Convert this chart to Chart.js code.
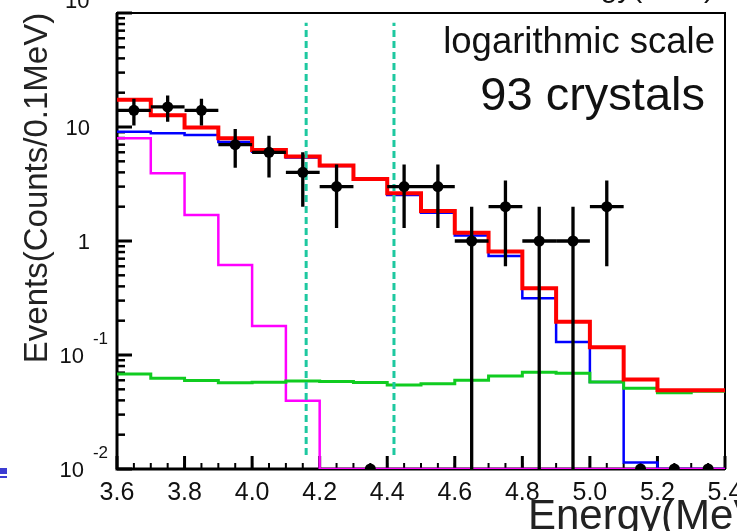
<!DOCTYPE html>
<html>
<head>
<meta charset="utf-8">
<script src="https://cdn.jsdelivr.net/npm/chart.js@4.4.0/dist/chart.umd.min.js"></script>
<style>
	html, body { margin: 0; padding: 0; background: #fff; }
	#wrap { position: relative; width: 737px; height: 531px; }
</style>
</head>
<body>
<div id="wrap"><canvas id="spectrum" width="737" height="531"></canvas></div>
<script>
// energy bins (MeV), 0.1 MeV wide
var binEdges = [3.6, 3.7, 3.8, 3.9, 4.0, 4.1, 4.2, 4.3, 4.4, 4.5, 4.6, 4.7, 4.8, 4.9, 5.0, 5.1, 5.2, 5.3, 5.4];
var binCenters = [3.65, 3.75, 3.85, 3.95, 4.05, 4.15, 4.25, 4.35, 4.45, 4.55, 4.65, 4.75, 4.85, 4.95, 5.05, 5.15, 5.25, 5.35];

// measured events and their error bars
var dataCounts = [14, 15, 14, 7, 6, 4, 3, 0, 3, 3, 1, 2, 1, 1, 2, 0, 0, 0];
var dataErr = [3.7, 3.9, 3.7, 2.6, 2.4, 2.0, 1.7, 0, 1.7, 1.7, 1.0, 1.4, 1.0, 1.0, 1.4, 0, 0, 0];

// fit components
var totalFit = [17.3, 12.7, 9.9, 7.95, 6.3, 5.5, 4.6, 3.5, 2.62, 1.83, 1.18, 0.81, 0.385, 0.196, 0.117, 0.061, 0.049, 0.049];
var mainFit = [9.1, 8.8, 8.5, 7.4, 6.06, 5.4, 4.54, 3.44, 2.53, 1.77, 1.12, 0.74, 0.314, 0.13, 0.058, 0.0114, 0, 0];
var fastFit = [7.95, 3.93, 1.69, 0.615, 0.18, 0.0397, 0, 0, 0, 0, 0, 0, 0, 0, 0, 0, 0, 0];
var bkgFit = [0.068, 0.0625, 0.0596, 0.0572, 0.0576, 0.059, 0.0585, 0.0575, 0.0546, 0.056, 0.060, 0.0655, 0.0705, 0.069, 0.058, 0.051, 0.0466, 0.048];

// energy window (dashed lines)
var windowLines = [4.16, 4.42];
var windowSpan = [0.0133, 82];

// axes
var X_MIN = 3.6, X_MAX = 5.4;
var Y_MIN = 0.01, Y_MAX = 100;
var xTickValues = [3.6, 3.8, 4.0, 4.2, 4.4, 4.6, 4.8, 5.0, 5.2, 5.4];
var xTickLabels = ["3.6", "3.8", "4.0", "4.2", "4.4", "4.6", "4.8", "5.0", "5.2", "5.4"];
var yTickValues = [0.01, 0.1, 1, 10, 100];
var yTickBase = ["10", "10", "1", "10", "10"];
var yTickExp = ["-2", "-1", "", "", "2"];

var FONT = '"Liberation Sans", Arial, Helvetica, sans-serif';

function HistPoints(vals) {
	var pts = [];
	for (var i = 0; i < vals.length; i++) {
		pts.push({ x: binEdges[i], y: vals[i] > 0 ? vals[i] : Y_MIN });
	}
	pts.push({ x: binEdges[vals.length], y: pts[pts.length - 1].y });
	return pts;
}

function HistSet(label, vals, color, width) {
	return {
		label: label,
		data: HistPoints(vals),
		borderColor: color,
		borderWidth: width,
		stepped: "before",
		pointRadius: 0,
		fill: false,
	};
}

function WindowSet(e) {
	return {
		label: "window " + e,
		data: [{ x: e, y: windowSpan[0] }, { x: e, y: windowSpan[1] }],
		borderColor: "#1ec8a0",
		borderWidth: 3,
		borderDash: [7, 4],
		pointRadius: 0,
		fill: false,
	};
}

var dataPoints = binCenters.map(function (c, i) {
	return { x: c, y: dataCounts[i] > 0 ? dataCounts[i] : Y_MIN };
});

// ROOT-like frame with inward ticks
var rootFrame = {
	id: "rootFrame",
	beforeDatasetsDraw: function (chart) {
		var ctx = chart.ctx, a = chart.chartArea, xs = chart.scales.x, ys = chart.scales.y;
		ctx.save();
		ctx.strokeStyle = "#000";
		ctx.lineCap = "butt";
		// x minor ticks
		ctx.lineWidth = 2;
		for (var k = 0; k <= 36; k++) {
			var px = xs.getPixelForValue(X_MIN + k * 0.05);
			ctx.beginPath();
			ctx.moveTo(px, a.bottom);
			ctx.lineTo(px, a.bottom - 6);
			ctx.stroke();
		}
		ctx.lineWidth = 3;
		xTickValues.forEach(function (v) {
			var px = xs.getPixelForValue(v);
			ctx.beginPath();
			ctx.moveTo(px, a.bottom);
			ctx.lineTo(px, a.bottom - 13);
			ctx.stroke();
		});
		// y ticks
		ctx.lineWidth = 2.5;
		for (var d = 0; d < yTickValues.length - 1; d++) {
			for (var m = 2; m <= 9; m++) {
				var py = ys.getPixelForValue(yTickValues[d] * m);
				ctx.beginPath();
				ctx.moveTo(a.left, py);
				ctx.lineTo(a.left + 8, py);
				ctx.stroke();
			}
		}
		ctx.lineWidth = 3;
		yTickValues.forEach(function (v) {
			var py = ys.getPixelForValue(v);
			ctx.beginPath();
			ctx.moveTo(a.left, py);
			ctx.lineTo(a.left + 15, py);
			ctx.stroke();
		});
		// frame
		ctx.lineWidth = 2;
		ctx.strokeRect(a.left, a.top, a.right - a.left, a.bottom - a.top);
		ctx.lineWidth = 3;
		ctx.beginPath();
		ctx.moveTo(a.left, a.top);
		ctx.lineTo(a.left, a.bottom);
		ctx.lineTo(a.right, a.bottom);
		ctx.stroke();

		// tick labels
		ctx.fillStyle = "#111";
		ctx.font = "25px " + FONT;
		ctx.textAlign = "center";
		ctx.textBaseline = "alphabetic";
		xTickValues.forEach(function (v, i) {
			ctx.fillText(xTickLabels[i], xs.getPixelForValue(v), a.bottom + 31);
		});
		yTickValues.forEach(function (v, i) {
			var py = ys.getPixelForValue(v);
			var base = py + 8;
			if (py <= a.top + 1) base = py - 5;
			ctx.textAlign = "right";
			if (yTickExp[i]) {
				ctx.font = "17px " + FONT;
				var ew = ctx.measureText(yTickExp[i]).width;
				ctx.fillText(yTickExp[i], 108, base - 19.5);
				ctx.font = "22px " + FONT;
				ctx.fillText(yTickBase[i], 108 - ew - 9, base);
			} else {
				ctx.font = "22px " + FONT;
				ctx.fillText(yTickBase[i], 90, base);
			}
		});
		ctx.restore();
	},
	afterDatasetsDraw: function (chart) {
		var ctx = chart.ctx, xs = chart.scales.x, ys = chart.scales.y;
		ctx.save();
		ctx.strokeStyle = "#000";
		ctx.lineWidth = 3.3;
		binCenters.forEach(function (c, i) {
			if (dataCounts[i] <= 0) return;
			var px = xs.getPixelForValue(c);
			var py = ys.getPixelForValue(dataCounts[i]);
			var lo = dataCounts[i] - dataErr[i];
			ctx.beginPath();
			ctx.moveTo(xs.getPixelForValue(binEdges[i]), py);
			ctx.lineTo(xs.getPixelForValue(binEdges[i + 1]), py);
			ctx.moveTo(px, ys.getPixelForValue(lo > Y_MIN ? lo : Y_MIN));
			ctx.lineTo(px, ys.getPixelForValue(dataCounts[i] + dataErr[i]));
			ctx.stroke();
		});
		ctx.restore();
	},
	afterDraw: function (chart) {
		var ctx = chart.ctx;
		ctx.save();
		ctx.fillStyle = "#111";
		ctx.textBaseline = "alphabetic";
		ctx.textAlign = "right";
		ctx.font = "36.5px " + FONT;
		ctx.fillText("logarithmic scale", 715, 53);
		ctx.font = "47px " + FONT;
		ctx.fillText("93 crystals", 705, 110);
		// upper (cut off) axis title
		ctx.font = "30px " + FONT;
		ctx.fillText("Energy(MeV)", 714, -3);
		// x axis title
		ctx.fillStyle = "#222";
		ctx.textAlign = "left";
		ctx.font = "42px " + FONT;
		ctx.fillText("Energy(MeV)", 528, 529);
		// y axis title
		ctx.translate(47, 188);
		ctx.rotate(-Math.PI / 2);
		ctx.textAlign = "center";
		ctx.font = "33px " + FONT;
		ctx.fillText("Events(Counts/0.1MeV)", 0, 0);
		ctx.restore();
		// small blue mark at left edge
		ctx.save();
		ctx.fillStyle = "#3c3cd2";
		ctx.fillRect(0, 468, 7, 6);
		ctx.fillRect(0, 476, 7, 2);
		ctx.restore();
	},
};

var ctx = document.getElementById("spectrum");
var spectrumChart = new Chart(ctx, {
	type: "line",
	data: {
		datasets: [
			{
				label: "data",
				data: dataPoints,
				showLine: false,
				pointRadius: 5.5,
				pointHoverRadius: 5.5,
				pointBackgroundColor: "#000",
				pointBorderColor: "#000",
				pointBorderWidth: 0,
				clip: 0,
			},
			WindowSet(windowLines[0]),
			WindowSet(windowLines[1]),
			HistSet("total", totalFit, "#ff0000", 4),
			HistSet("background", bkgFit, "#10cc20", 3),
			HistSet("fast", fastFit, "#ff00ff", 2.5),
			HistSet("main", mainFit, "#0000ff", 2.5),
		],
	},
	options: {
		responsive: false,
		animation: false,
		devicePixelRatio: 1,
		layout: {
			padding: { left: 117, right: 12, top: 13, bottom: 62 },
		},
		plugins: {
			legend: { display: false },
			title: { display: false },
			tooltip: { enabled: false },
		},
		scales: {
			x: { type: "linear", min: X_MIN, max: X_MAX, display: false },
			y: { type: "logarithmic", min: Y_MIN, max: Y_MAX, display: false },
		},
	},
	plugins: [rootFrame],
});
</script>
</body>
</html>
